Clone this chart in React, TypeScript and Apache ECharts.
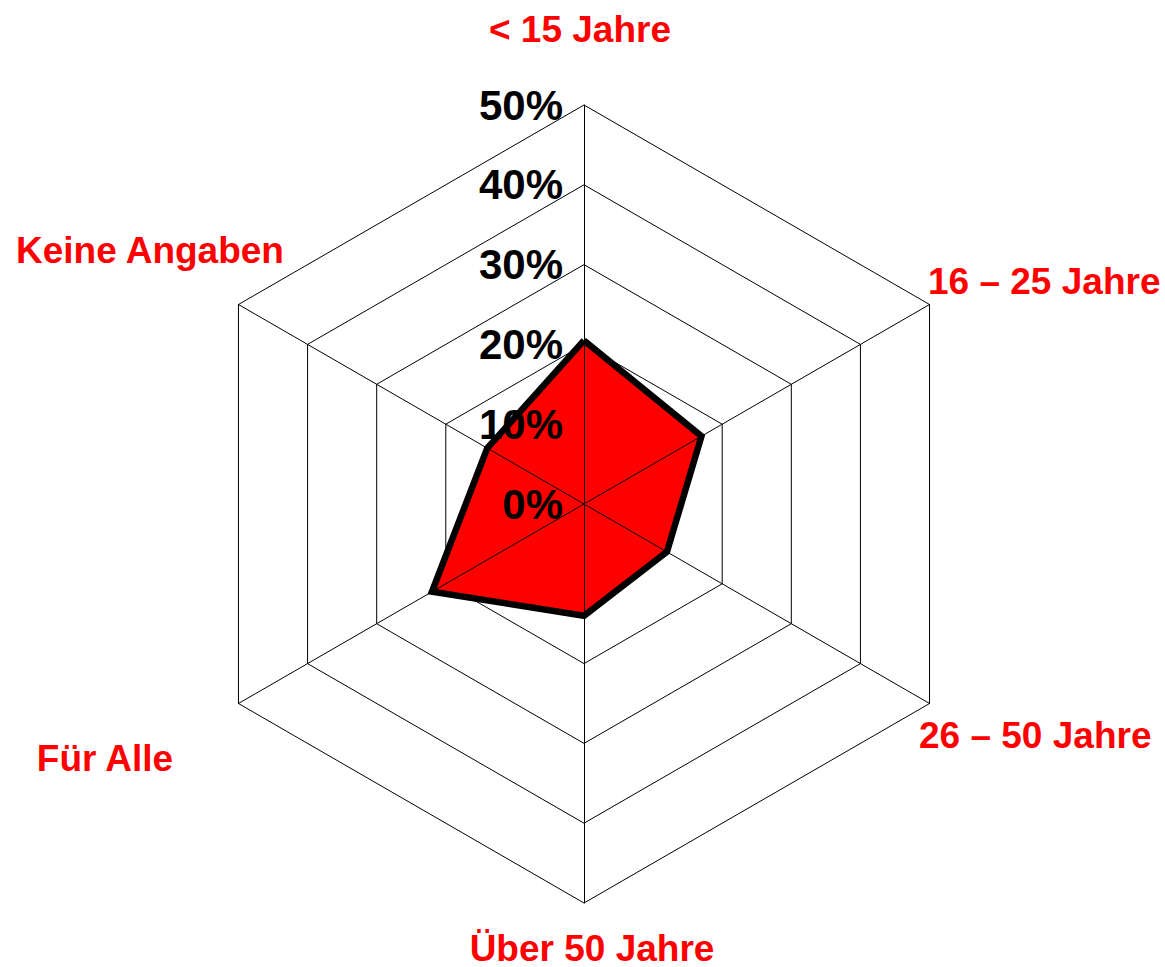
import React, { useEffect, useRef } from "react";
import * as echarts from "echarts";

// Categories in clockwise order starting at the top (as in the reference)
const categories = ["< 15 Jahre", "16 – 25 Jahre", "26 – 50 Jahre", "Über 50 Jahre", "Für Alle", "Keine Angaben"];
// Share (%) per category
const values = [20.5, 17, 12, 14, 22, 14];
// Radial scale
const axisMin = 0;
const axisMax = 50;
const splitCount = 5;

// Label placements (layout only)
const labelLayout = [
  { x: 580, y: 29, align: "center" },
  { x: 928, y: 281, align: "left" },
  { x: 919, y: 735, align: "left" },
  { x: 592, y: 948, align: "center" },
  { x: 105, y: 758, align: "center" },
  { x: 150, y: 250, align: "center" },
];

export default function App() {
  const ref = useRef<HTMLDivElement>(null);
  useEffect(() => {
    if (!ref.current) return;
    const chart = echarts.init(ref.current, null, { renderer: "svg" });
    // ECharts places indicators counter-clockwise; reorder so they appear clockwise
    const order = [0, ...categories.map((_, i) => i).slice(1).reverse()];
    const font = "Liberation Sans, Arial, sans-serif";
    const makeIndicators = (withLabels: boolean) =>
      order.map((i, k) => ({
        name: categories[i],
        min: axisMin,
        max: axisMax,
        axisLabel: withLabels && k === 0
          ? {
              show: true,
              formatter: "{value}%",
              color: "#000",
              fontSize: 42,
              fontWeight: "bold",
              fontFamily: font,
              margin: 21,
            }
          : { show: false },
      }));
    const common = {
      center: [584, 504],
      radius: 399,
      startAngle: 90,
      shape: "polygon",
      splitNumber: splitCount,
      axisName: { show: false },
      splitArea: { show: false },
      axisTick: { show: false },
    };
    const seriesValues = order.map((i) => values[i]);
    chart.setOption({
      animation: false,
      backgroundColor: "#fff",
      radar: [
        {
          ...common,
          z: 1,
          indicator: makeIndicators(false),
          axisLine: { show: false },
          splitLine: { lineStyle: { color: "#000", width: 1 } },
        },
        {
          ...common,
          z: 3,
          indicator: makeIndicators(true),
          axisLine: { lineStyle: { color: "#000", width: 1 } },
          splitLine: { show: false },
        },
      ],
      series: [
        {
          type: "radar",
          radarIndex: 0,
          z: 2,
          symbol: "none",
          data: [
            {
              value: seriesValues,
              lineStyle: { width: 0, opacity: 0 },
              areaStyle: { color: "#ff0000", opacity: 1 },
            },
          ],
        },
        {
          type: "radar",
          radarIndex: 1,
          z: 4,
          symbol: "none",
          data: [
            {
              value: seriesValues,
              lineStyle: { color: "#000", width: 6.5, join: "miter" },
            },
          ],
        },
      ],
      graphic: categories.map((c, i) => ({
        type: "text",
        x: labelLayout[i].x,
        y: labelLayout[i].y,
        style: {
          text: c,
          fill: "#ff0000",
          font: `bold 37px ${font}`,
          textAlign: labelLayout[i].align,
          textVerticalAlign: "middle",
        },
      })),
    });
    return () => chart.dispose();
  }, []);
  return (
    <div
      ref={ref}
      style={{ position: "fixed", left: 0, top: 0, width: 1165, height: 967, background: "#fff" }}
    />
  );
}
